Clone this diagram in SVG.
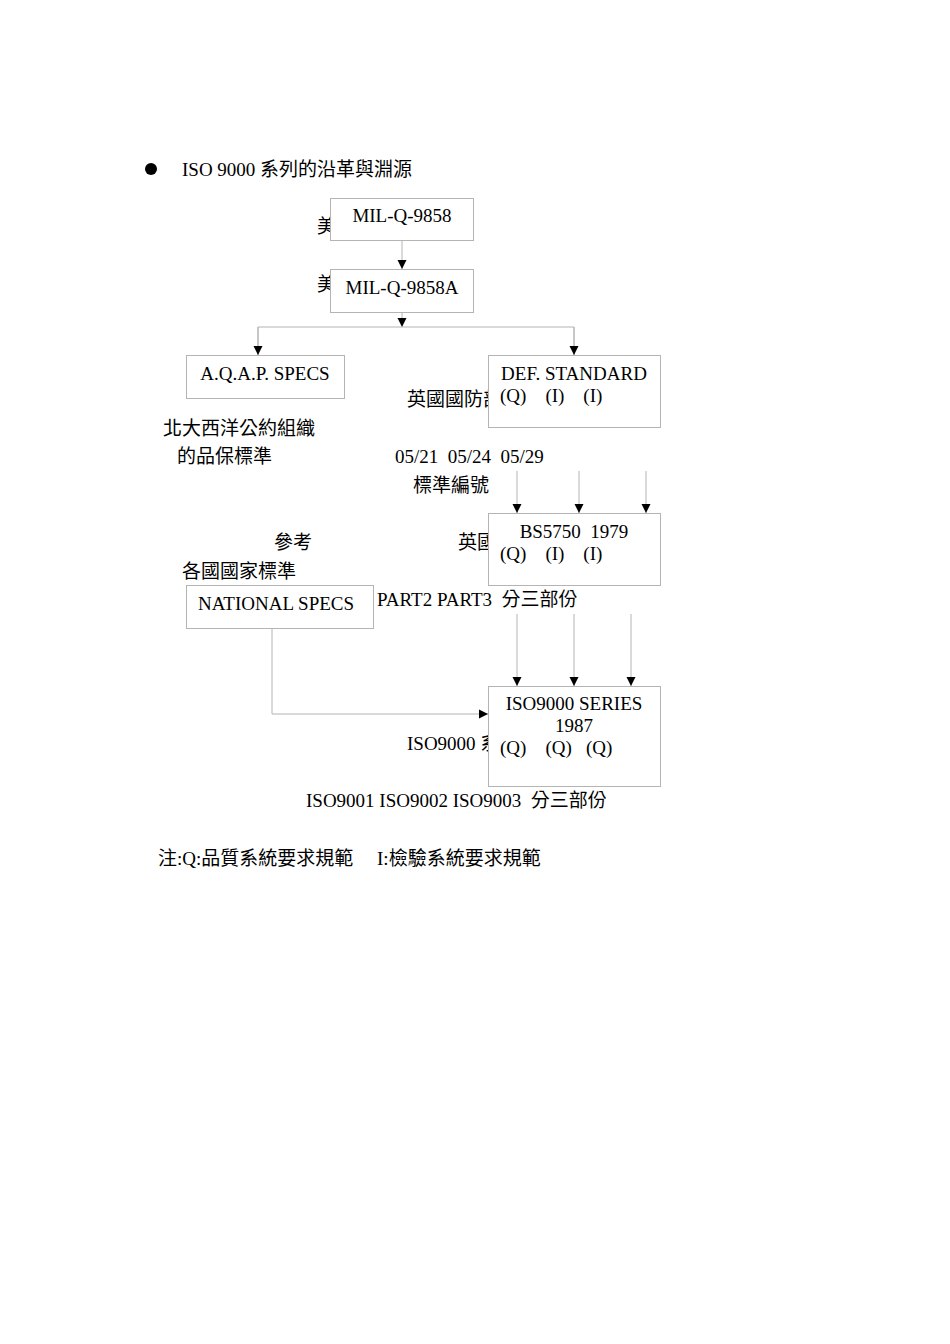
<svg xmlns="http://www.w3.org/2000/svg" width="950" height="1344" viewBox="0 0 950 1344">
<style>
text{font-family:"Liberation Serif","Noto Sans CJK TC",serif;font-size:19px;fill:#000;white-space:pre}
.c{text-anchor:middle}
.box{fill:#fff;stroke:#b4b4b4;stroke-width:1}
.ln{fill:none;stroke:#b4b4b4;stroke-width:1}
</style>
<defs>
<marker id="ah" markerWidth="10" markerHeight="10" refX="9" refY="5" orient="auto" markerUnits="userSpaceOnUse">
<path d="M0,0.5 L9,5 L0,9.5 Z" fill="#000"/>
</marker>
</defs>
<rect width="950" height="1344" fill="#fff"/>
<circle cx="151" cy="169" r="6" fill="#000"/>
<text x="182" y="176">ISO 9000 系列的沿革與淵源</text>

<text x="317" y="233">美</text>
<text x="317" y="291">美</text>
<text x="407" y="406">英國國防部</text>
<text x="163" y="435">北大西洋公約組織</text>
<text x="177" y="463">的品保標準</text>
<text x="395" y="463" xml:space="preserve">05/21  05/24  05/29</text>
<text x="413" y="492">標準編號</text>
<text x="458" y="549">英國</text>
<text x="274" y="549">參考</text>
<text x="182" y="578">各國國家標準</text>
<text x="377" y="606" xml:space="preserve">PART2 PART3  分三部份</text>
<text x="407" y="750">ISO9000 系</text>
<text x="306" y="807" xml:space="preserve">ISO9001 ISO9002 ISO9003  分三部份</text>
<text x="158" y="865" xml:space="preserve">注:Q:品質系統要求規範     I:檢驗系統要求規範</text>

<g id="connectors">
<line class="ln" x1="402" y1="240" x2="402" y2="269" marker-end="url(#ah)"/>
<line class="ln" x1="402" y1="312" x2="402" y2="327" marker-end="url(#ah)"/>
<polyline class="ln" points="258,355 258,327 574,327 574,355"/>
<line class="ln" x1="258" y1="327" x2="258" y2="355" marker-end="url(#ah)"/>
<line class="ln" x1="574" y1="327" x2="574" y2="355" marker-end="url(#ah)"/>
<line class="ln" x1="517" y1="471" x2="517" y2="513" marker-end="url(#ah)"/>
<line class="ln" x1="579" y1="471" x2="579" y2="513" marker-end="url(#ah)"/>
<line class="ln" x1="646" y1="471" x2="646" y2="513" marker-end="url(#ah)"/>
<line class="ln" x1="517" y1="614" x2="517" y2="686" marker-end="url(#ah)"/>
<line class="ln" x1="574" y1="614" x2="574" y2="686" marker-end="url(#ah)"/>
<line class="ln" x1="631" y1="614" x2="631" y2="686" marker-end="url(#ah)"/>
<polyline class="ln" points="272,628 272,714 488,714" marker-end="url(#ah)"/>
</g>

<g id="mil9858">
<rect class="box" x="330.5" y="198.5" width="143" height="42"/>
<text class="c" x="402" y="222">MIL-Q-9858</text>
</g>
<g id="mil9858a">
<rect class="box" x="330.5" y="269.5" width="143" height="43"/>
<text class="c" x="402" y="294">MIL-Q-9858A</text>
</g>
<g id="aqap">
<rect class="box" x="186.5" y="355.5" width="158" height="43"/>
<text class="c" x="265" y="380">A.Q.A.P. SPECS</text>
</g>
<g id="defstd">
<rect class="box" x="488.5" y="355.5" width="172" height="72"/>
<text class="c" x="574" y="380">DEF. STANDARD</text>
<text x="500" y="402" xml:space="preserve">(Q)    (I)    (I)</text>
</g>
<g id="bs5750">
<rect class="box" x="488.5" y="513.5" width="172" height="72"/>
<text class="c" x="574" y="538" xml:space="preserve">BS5750  1979</text>
<text x="500" y="560" xml:space="preserve">(Q)    (I)    (I)</text>
</g>
<g id="national">
<rect class="box" x="186.5" y="585.5" width="187" height="43"/>
<text x="198" y="610">NATIONAL SPECS</text>
</g>
<g id="iso9000">
<rect class="box" x="488.5" y="686.5" width="172" height="100"/>
<text class="c" x="574" y="710">ISO9000 SERIES</text>
<text class="c" x="574" y="732">1987</text>
<text x="500" y="754" xml:space="preserve">(Q)    (Q)   (Q)</text>
</g>
</svg>
